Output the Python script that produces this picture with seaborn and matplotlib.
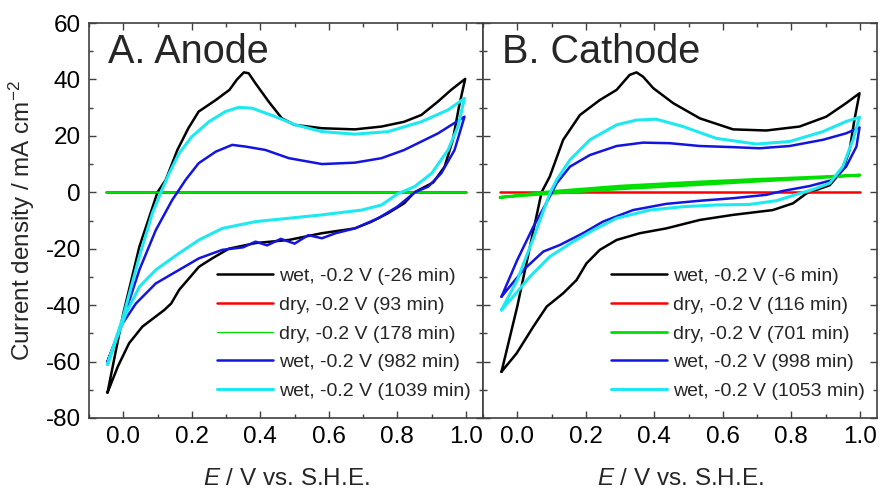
import matplotlib
matplotlib.use('Agg')
import matplotlib.pyplot as plt
import seaborn as sns
from matplotlib.ticker import MultipleLocator

# ---------------- data ----------------
# Panel A (Anode)
A_wet26_E = [-0.046, 0.0, 0.047, 0.10, 0.124, 0.158, 0.19, 0.22, 0.27, 0.31, 0.332, 0.352, 0.366, 0.386,
             0.424, 0.463, 0.50, 0.58, 0.676, 0.754, 0.82, 0.87, 0.919, 0.957, 0.998,
             0.98, 0.962, 0.938, 0.905, 0.85, 0.82, 0.773, 0.725, 0.676, 0.58, 0.483, 0.386, 0.308,
             0.26, 0.221, 0.192, 0.163, 0.14, 0.12, 0.095, 0.056, 0.017, -0.016, -0.046]
A_wet26_j = [-71, -43, -19.3, 0, 4.4, 15, 22.7, 28.6, 32.7, 36.3, 40, 42.5, 42.2, 38.6,
             32.2, 26.2, 23.9, 22.7, 22.3, 23.3, 25, 27.4, 32.2, 36.3, 40.2,
             30.4, 18.6, 9.1, 3.5, 0, -3.9, -7.4, -10.4, -12.8, -14.5, -16.9, -18, -20.0,
             -23.4, -26.4, -30.5, -34.6, -39.4, -41.7, -44, -47.6, -53.5, -61.8, -71]

A_dry93_E = [-0.05, 1.0]
A_dry93_j = [0.0, 0.0]

A_dry178_E = [-0.05, 1.0]
A_dry178_j = [0.25, 0.25]

A_wet982_E = [-0.046, 0.0, 0.047, 0.095, 0.143, 0.158, 0.182, 0.22, 0.27, 0.318, 0.357, 0.415, 0.483,
              0.58, 0.676, 0.754, 0.82, 0.919, 0.996,
              0.967, 0.928, 0.89, 0.851, 0.80, 0.744, 0.676, 0.62, 0.58, 0.54, 0.50, 0.46, 0.42,
              0.386, 0.35, 0.289, 0.221, 0.163, 0.095, 0.037, -0.002, -0.046]
A_wet982_j = [-60, -45, -27.5, -13.4, -2.7, 0, 4.4, 10.3, 14.4, 16.8, 16.2, 15, 12.1,
              10, 10.5, 12.1, 15, 20.9, 26.8,
              15, 6.7, 2, 0, -5.1, -9.2, -12.8, -14.5, -16.3, -15.2, -18.2, -16.5, -18.8,
              -17.5, -19.5, -20.4, -23.4, -27.5, -32.3, -39.4, -46.5, -60]

A_wet1039_E = [-0.046, 0.0, 0.047, 0.085, 0.11, 0.134, 0.163, 0.2, 0.25, 0.298, 0.337, 0.376, 0.444,
               0.502, 0.58, 0.676, 0.773, 0.87, 0.948, 0.996,
               0.977, 0.948, 0.9, 0.85, 0.80, 0.754, 0.696, 0.58, 0.483, 0.386, 0.289, 0.221,
               0.163, 0.095, 0.047, 0.008, -0.021, -0.046]
A_wet1039_j = [-61, -44, -22.8, -7.4, 0, 6.7, 13.8, 19.7, 25, 28.6, 30.1, 29.8, 26.8,
               23.9, 21.5, 20.6, 21.5, 25, 29.2, 33.3,
               23.3, 15, 6.7, 2, -0.6, -4.5, -6.3, -8, -9.2, -10.4, -12.8, -16.9,
               -21.6, -27.5, -33.5, -42.9, -52.4, -61]

# Panel B (Cathode)
B_wet6_E = [-0.046, 0.0, 0.037, 0.071, 0.095, 0.134, 0.183, 0.241, 0.29, 0.328, 0.348, 0.367, 0.397,
            0.455, 0.533, 0.63, 0.727, 0.824, 0.902, 0.96, 0.999,
            0.984, 0.97, 0.95, 0.912, 0.844, 0.805, 0.746, 0.63, 0.533, 0.435, 0.358, 0.29, 0.241,
            0.202, 0.173, 0.134, 0.086, 0.047, -0.002, -0.046]
B_wet6_j = [-63.6, -40.5, -19.3, 0, 5.6, 18.6, 27.4, 32.7, 36.3, 41.6, 42.5, 41, 36.9,
            31.6, 26.2, 22.3, 21.9, 23.3, 26.8, 31.6, 35.1,
            25.6, 15, 7.9, 2.5, -0.4, -3.9, -6.3, -8, -9.8, -12.8, -14.5, -16.9, -20.4,
            -25.2, -31.1, -35.8, -40.5, -47.6, -57.1, -63.6]

B_dry116_E = [-0.05, 1.0]
B_dry116_j = [0.0, 0.0]

B_dry701_E = [-0.05, 0.1, 0.3, 0.5, 0.7, 0.85, 1.0, 0.85, 0.7, 0.5, 0.3, 0.1, -0.05]
B_dry701_j = [-1.8, 0.3, 2.2, 3.5, 4.6, 5.3, 6.1, 4.9, 3.9, 2.5, 1.2, -0.4, -1.8]

B_wet998_E = [-0.046, 0.0, 0.047, 0.095, 0.115, 0.154, 0.212, 0.29, 0.367, 0.445, 0.533, 0.63, 0.707,
              0.795, 0.892, 0.96, 0.999,
              0.99, 0.96, 0.921, 0.853, 0.776, 0.727, 0.63, 0.533, 0.435, 0.338, 0.25, 0.192,
              0.124, 0.076, 0.018, -0.046]
B_wet998_j = [-37, -24, -12.2, -1.5, 3.2, 9.1, 13.2, 16.4, 17.6, 17.4, 16.4, 16, 15.6,
              16.4, 18.6, 20.9, 23,
              16.2, 9.1, 4.4, 2.2, 0.5, -0.9, -2.1, -3, -4.1, -6.3, -10.4, -14.5,
              -18.7, -21, -27.5, -37]

B_wet1053_E = [-0.046, 0.0, 0.047, 0.095, 0.115, 0.154, 0.212, 0.29, 0.348, 0.406, 0.484, 0.581, 0.698,
               0.795, 0.892, 0.96, 0.999,
               0.98, 0.95, 0.912, 0.863, 0.814, 0.756, 0.678, 0.581, 0.484, 0.387, 0.29, 0.222,
               0.163, 0.095, 0.037, -0.012, -0.046]
B_wet1053_j = [-41.7, -31.1, -16.3, -0.4, 4.4, 11.5, 18.6, 23.9, 25.6, 25.9, 23.3, 19.1, 17.1,
               18, 21.5, 25.1, 26.6,
               18.6, 9.1, 3.2, 1.0, -0.8, -3.0, -4.3, -4.5, -5.1, -6.3, -9.2, -13.4,
               -17.5, -22.8, -29.9, -37, -41.7]

A_labels = ['wet, -0.2 V (-26 min)', 'dry, -0.2 V (93 min)', 'dry, -0.2 V (178 min)',
            'wet, -0.2 V (982 min)', 'wet, -0.2 V (1039 min)']
B_labels = ['wet, -0.2 V (-6 min)', 'dry, -0.2 V (116 min)', 'dry, -0.2 V (701 min)',
            'wet, -0.2 V (998 min)', 'wet, -0.2 V (1053 min)']

colors = ['#000000', '#ff0000', '#00e000', '#1414e0', '#1ee8f0']
A_widths = [1.8, 1.8, 0.9, 1.8, 2.2]
B_widths = [1.8, 1.8, 2.0, 1.8, 2.2]

# ---------------- style ----------------
sns.set_theme(style='ticks')
plt.rcParams['font.family'] = ['Liberation Sans', 'DejaVu Sans']
plt.rcParams['mathtext.fontset'] = 'custom'
plt.rcParams['mathtext.rm'] = 'Liberation Sans'
plt.rcParams['mathtext.it'] = 'Liberation Sans:italic'
plt.rcParams['mathtext.default'] = 'regular'

fig = plt.figure(figsize=(8.83, 4.93), dpi=100)
L, R, B_, T = 89 / 883, 483 / 883, 1 - 418 / 493, 1 - 23 / 493
W = (R - L)
axA = fig.add_axes([L, B_, W, T - B_])
axB = fig.add_axes([R, B_, W, T - B_], sharey=axA)

spine_c = '#404040'

def draw(ax, series, labels, widths, title):
    for (E, j), lab, c, lw in zip(series, labels, colors, widths):
        sns.lineplot(x=E, y=j, sort=False, estimator=None, ax=ax, color=c, lw=lw, label=lab)
    ax.set_xlim(-0.1, 1.05)
    ax.set_ylim(-80, 60)
    ax.xaxis.set_major_locator(MultipleLocator(0.2))
    ax.xaxis.set_minor_locator(MultipleLocator(0.1))
    ax.yaxis.set_major_locator(MultipleLocator(20))
    ax.yaxis.set_minor_locator(MultipleLocator(10))
    ax.tick_params(which='both', direction='in', top=True, right=True, color=spine_c,
                   labelcolor='black', labelsize=17.5, width=1.0)
    ax.tick_params(which='major', length=5, pad=6)
    ax.tick_params(which='minor', length=2.8)
    for s in ax.spines.values():
        s.set_color(spine_c)
        s.set_linewidth(1.2)
    ax.set_xlabel('$\\mathit{E}$ / V vs. S.H.E.', fontsize=17.5, labelpad=14)
    ax.text(0.048, 0.899, title, transform=ax.transAxes, fontsize=28.5, ha='left', va='baseline')
    ax.legend(loc='upper left', bbox_to_anchor=(0.325, 0.381), frameon=False, fontsize=14,
              handlelength=2.9, handletextpad=0.3, labelspacing=0.57, borderpad=0,
              borderaxespad=0)
    ax.grid(False)

draw(axA, [(A_wet26_E, A_wet26_j), (A_dry93_E, A_dry93_j), (A_dry178_E, A_dry178_j),
           (A_wet982_E, A_wet982_j), (A_wet1039_E, A_wet1039_j)], A_labels, A_widths, 'A. Anode')
draw(axB, [(B_wet6_E, B_wet6_j), (B_dry116_E, B_dry116_j), (B_dry701_E, B_dry701_j),
           (B_wet998_E, B_wet998_j), (B_wet1053_E, B_wet1053_j)], B_labels, B_widths, 'B. Cathode')

axA.set_xticks([0.0, 0.2, 0.4, 0.6, 0.8, 1.0])
axA.set_xticklabels(['0.0', '0.2', '0.4', '0.6', '0.8', '1.0'])
axB.set_xticks([0.0, 0.2, 0.4, 0.6, 0.8, 1.0])
axB.set_xticklabels(['0.0', '0.2', '0.4', '0.6', '0.8', '1.0'])
axA.set_yticks([-80, -60, -40, -20, 0, 20, 40, 60])
axA.set_yticklabels(['-80', '-60', '-40', '-20', '0', '20', '40', '60'])
axB.tick_params(axis='y', labelleft=False)
axA.set_ylabel('Current density / mA cm$^{-2}$', fontsize=17.5, labelpad=6)
axB.set_ylabel('')

fig.savefig('out.png', dpi=100)
